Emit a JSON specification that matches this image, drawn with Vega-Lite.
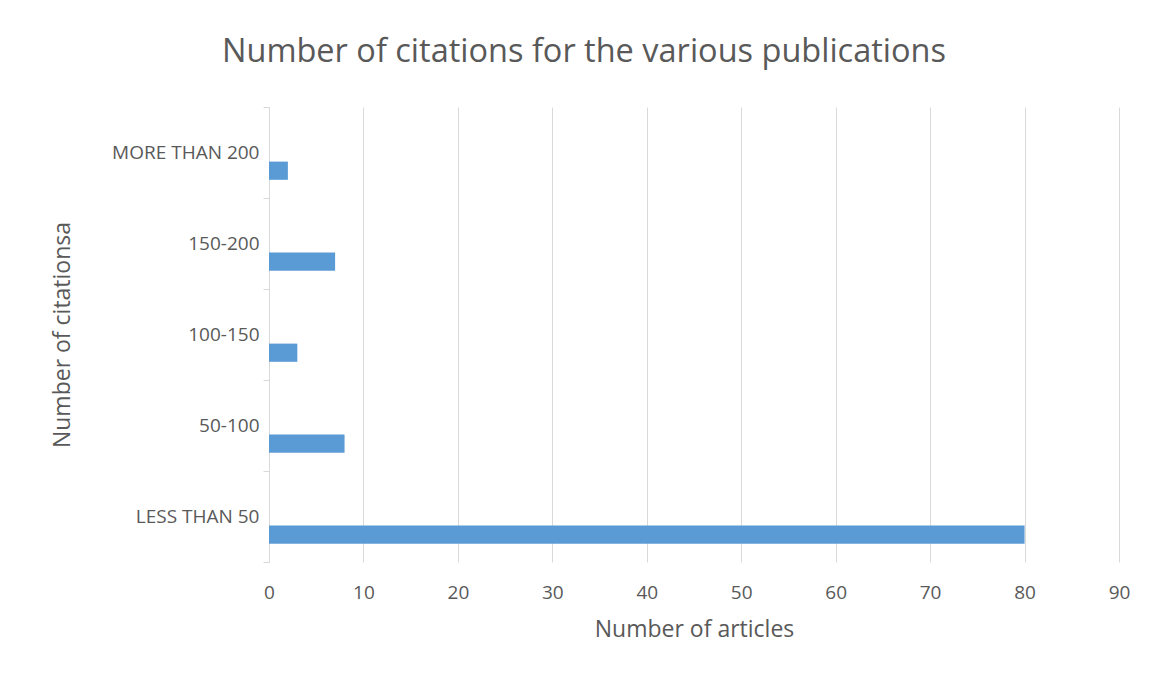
{
  "$schema": "https://vega.github.io/schema/vega-lite/v6.json",
  "width": 850,
  "height": 455,
  "autosize": "none",
  "padding": {"left": 269, "top": 107, "right": 30, "bottom": 115},
  "background": "white",
  "title": {
    "text": "Number of citations for the various publications",
    "font": "Open Sans",
    "fontSize": 32.5,
    "fontWeight": "normal",
    "color": "#595959",
    "anchor": "middle",
    "dx": -110,
    "offset": 30
  },
  "data": {
    "values": [
      {"citations": "MORE THAN 200", "articles": 2},
      {"citations": "150-200", "articles": 7},
      {"citations": "100-150", "articles": 3},
      {"citations": "50-100", "articles": 8},
      {"citations": "LESS THAN 50", "articles": 80}
    ]
  },
  "mark": {"type": "bar", "color": "#5b9bd5"},
  "encoding": {
    "y": {
      "field": "citations",
      "type": "nominal",
      "sort": ["MORE THAN 200", "150-200", "100-150", "50-100", "LESS THAN 50"],
      "scale": {"paddingInner": 0, "paddingOuter": 0},
      "axis": {
        "title": "Number of citationsa",
        "tickBand": "extent",
        "tickSize": 6,
        "tickColor": "#d9d9d9",
        "domainColor": "#d9d9d9",
        "labelPadding": 4,
        "labelFontSize": 19,
        "labelFont": "Open Sans",
        "labelColor": "#595959",
        "titleFont": "Open Sans",
        "titleFontSize": 23,
        "titleFontWeight": "normal",
        "titleColor": "#595959",
        "titlePadding": 37
      }
    },
    "yOffset": {
      "datum": "s3",
      "scale": {"domain": ["s0", "s1", "s2", "s3", "s4"], "paddingInner": 0, "paddingOuter": 0}
    },
    "x": {
      "field": "articles",
      "type": "quantitative",
      "scale": {"domain": [0, 90]},
      "axis": {
        "title": "Number of articles",
        "values": [0, 10, 20, 30, 40, 50, 60, 70, 80, 90],
        "domain": false,
        "ticks": false,
        "tickSize": 0,
        "grid": true,
        "gridColor": "#d9d9d9",
        "labelFlush": false,
        "labelPadding": 21,
        "labelFontSize": 19,
        "labelFont": "Open Sans",
        "labelColor": "#595959",
        "titleFont": "Open Sans",
        "titleFontSize": 23,
        "titleFontWeight": "normal",
        "titleColor": "#595959",
        "titlePadding": 16
      }
    }
  },
  "config": {"view": {"stroke": null}}
}
